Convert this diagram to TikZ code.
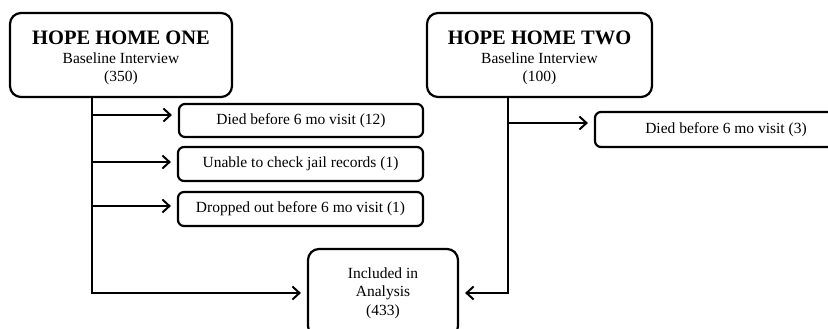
\documentclass[tikz,border=0pt]{standalone}
\usepackage{fontspec}
\setmainfont{Liberation Serif}
\usetikzlibrary{arrows.meta,calc}
\begin{document}
\begin{tikzpicture}[x=1pt,y=-1pt,
  bigbox/.style={draw, line width=2.2pt, rounded corners=11pt, align=center, inner sep=0pt,
    font=\fontsize{15.5}{18.5}\selectfont},
  smallbox/.style={draw, line width=2.2pt, rounded corners=6pt, inner sep=0pt,
    font=\fontsize{15.5}{18.5}\selectfont},
  arr/.style={line width=2pt, -{Straight Barb[length=7pt,width=13pt]}, shorten >=6pt}]
\useasboundingbox (0,0) rectangle (828,329);
\clip (0,0) rectangle (828,329);

\node[bigbox, minimum width=222pt, minimum height=84pt] (h1) at (121,55)
  {\rule{0pt}{20pt}{\fontsize{20.5}{21}\selectfont\bfseries HOPE HOME ONE}\\Baseline Interview\\(350)};
\node[bigbox, minimum width=225pt, minimum height=84pt] (h2) at (539.5,55)
  {\rule{0pt}{20pt}{\fontsize{20.5}{21}\selectfont\bfseries HOPE HOME TWO}\\Baseline Interview\\(100)};

\node[smallbox, minimum width=244pt, minimum height=33pt] (d12) at (301,120.5) {Died before 6 mo visit (12)};
\node[smallbox, minimum width=245pt, minimum height=34pt] (un) at (300.5,164) {Unable to check jail records (1)};
\node[smallbox, minimum width=245pt, minimum height=34pt] (dr) at (300.5,209) {Dropped out before 6 mo visit (1)};
\node[smallbox, minimum width=262pt, minimum height=35pt] (d3) at (726,129.5) {Died before 6 mo visit (3)};

\node[bigbox, minimum width=150pt, minimum height=88pt] (inc) at (383,293) {Included in\\Analysis\\(433)};

\coordinate (t1) at (91.5,0);
\coordinate (t2) at (508,0);
\coordinate (a1) at ($(d12.west)+(0,-5.5)$);
\coordinate (a2) at ($(un.west)+(0,-2)$);
\coordinate (a3) at ($(dr.west)+(0,-3)$);
\coordinate (a4) at ($(d3.west)+(0,-6.5)$);

\draw[arr] (h1.south -| t1) |- (inc.west);
\draw[arr] (h2.south -| t2) |- (inc.east);
\draw[arr] (a1 -| t1) -- (a1);
\draw[arr] (a2 -| t1) -- (a2);
\draw[arr] (a3 -| t1) -- (a3);
\draw[arr] (a4 -| t2) -- (a4);
\end{tikzpicture}
\end{document}
